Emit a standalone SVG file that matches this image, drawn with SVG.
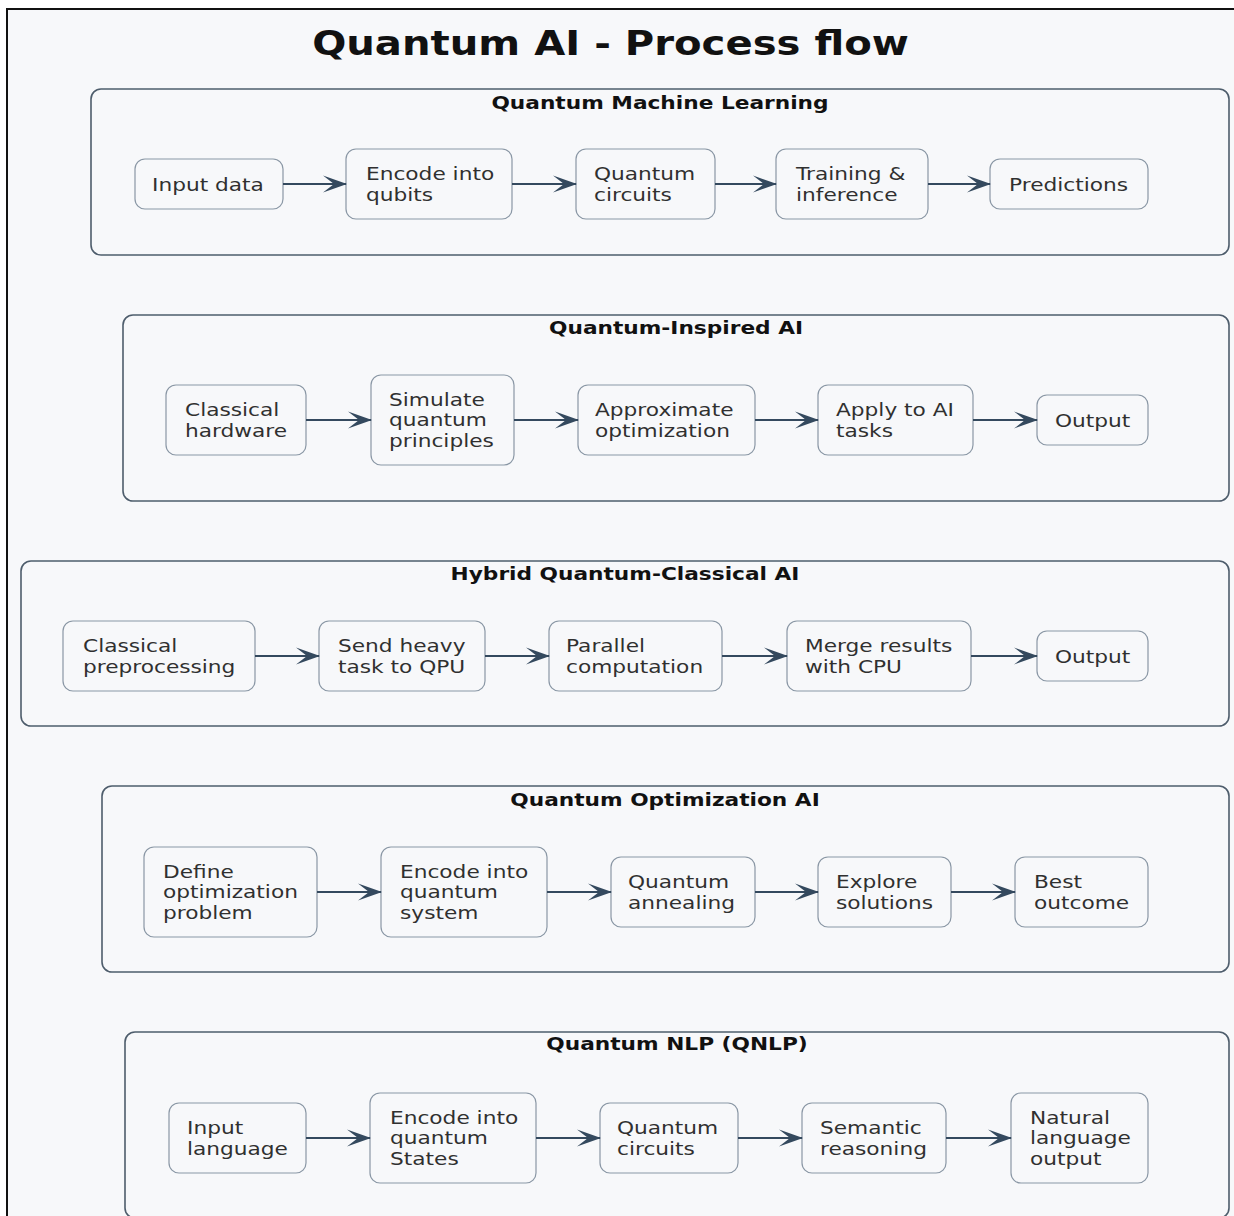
<svg xmlns="http://www.w3.org/2000/svg" width="1234" height="1216" viewBox="0 0 1234 1216">
<style>
.bg{fill:#f7f8fa;stroke:#111;stroke-width:2}
.cl{fill:#f7f8fa;stroke:#4e5d6c;stroke-width:1.6}
.nd{fill:#f7f8fa;stroke:#8a97a5;stroke-width:1.2}
.t{font-family:"DejaVu Sans",sans-serif;font-size:18px;fill:#303030}
.ct{font-family:"DejaVu Sans",sans-serif;font-size:18px;font-weight:bold;fill:#111;text-anchor:middle}
.tt{font-family:"DejaVu Sans",sans-serif;font-size:33px;font-weight:bold;fill:#111;text-anchor:middle}
.e{stroke:#34495e;stroke-width:2.2;fill:none;marker-end:url(#ah)}
</style>
<defs>
<marker id="ah" markerUnits="userSpaceOnUse" markerWidth="24" markerHeight="18" viewBox="0 0 24 18" refX="23" refY="9" orient="auto">
<path d="M0,0.5 L24,9 L0,17.5 L11,9 Z" fill="#34495e"/>
</marker>
</defs>
<rect x="0" y="0" width="1234" height="1216" fill="#ffffff"/>
<rect class="bg" x="7" y="9" width="1240" height="1220"/>
<text class="tt" transform="translate(610.5,55) scale(1.217,1)">Quantum AI - Process flow</text>

<g id="cluster-qml">
<rect class="cl" x="91" y="89" width="1138" height="166" rx="10"/>
<text class="ct" transform="translate(660,109) scale(1.205,1)">Quantum Machine Learning</text>
</g>
<g id="cluster-qia">
<rect class="cl" x="123" y="315" width="1106" height="186" rx="10"/>
<text class="ct" transform="translate(676,334) scale(1.205,1)">Quantum-Inspired AI</text>
</g>
<g id="cluster-hybrid">
<rect class="cl" x="21" y="561" width="1208" height="165" rx="10"/>
<text class="ct" transform="translate(625,580) scale(1.205,1)">Hybrid Quantum-Classical AI</text>
</g>
<g id="cluster-qopt">
<rect class="cl" x="102" y="786" width="1127" height="186" rx="10"/>
<text class="ct" transform="translate(665,806) scale(1.205,1)">Quantum Optimization AI</text>
</g>
<g id="cluster-qnlp">
<rect class="cl" x="125" y="1032" width="1104" height="186" rx="10"/>
<text class="ct" transform="translate(677,1050) scale(1.205,1)">Quantum NLP (QNLP)</text>
</g>

<!-- Row 1 -->
<g id="n1"><rect class="nd" x="135" y="159" width="148" height="50" rx="10"/><text class="t" transform="translate(152,190.5) scale(1.205,1)">Input data</text></g>
<g id="n2"><rect class="nd" x="346" y="149" width="166" height="70" rx="10"/><text class="t" transform="translate(366,180) scale(1.205,1)"><tspan x="0" y="0">Encode into</tspan><tspan x="0" y="21">qubits</tspan></text></g>
<g id="n3"><rect class="nd" x="576" y="149" width="139" height="70" rx="10"/><text class="t" transform="translate(594,180) scale(1.205,1)"><tspan x="0" y="0">Quantum</tspan><tspan x="0" y="21">circuits</tspan></text></g>
<g id="n4"><rect class="nd" x="776" y="149" width="152" height="70" rx="10"/><text class="t" transform="translate(796,180) scale(1.205,1)"><tspan x="0" y="0">Training &amp;</tspan><tspan x="0" y="21">inference</tspan></text></g>
<g id="n5"><rect class="nd" x="990" y="159" width="158" height="50" rx="10"/><text class="t" transform="translate(1009,190.5) scale(1.205,1)">Predictions</text></g>

<!-- Row 2 -->
<g id="m1"><rect class="nd" x="166" y="385" width="140" height="70" rx="10"/><text class="t" transform="translate(185,416) scale(1.205,1)"><tspan x="0" y="0">Classical</tspan><tspan x="0" y="21">hardware</tspan></text></g>
<g id="m2"><rect class="nd" x="371" y="375" width="143" height="90" rx="10"/><text class="t" transform="translate(389,405.5) scale(1.205,1)"><tspan x="0" y="0">Simulate</tspan><tspan x="0" y="21">quantum</tspan><tspan x="0" y="42">principles</tspan></text></g>
<g id="m3"><rect class="nd" x="578" y="385" width="177" height="70" rx="10"/><text class="t" transform="translate(595,416) scale(1.205,1)"><tspan x="0" y="0">Approximate</tspan><tspan x="0" y="21">optimization</tspan></text></g>
<g id="m4"><rect class="nd" x="818" y="385" width="155" height="70" rx="10"/><text class="t" transform="translate(836,416) scale(1.205,1)"><tspan x="0" y="0">Apply to AI</tspan><tspan x="0" y="21">tasks</tspan></text></g>
<g id="m5"><rect class="nd" x="1037" y="395" width="111" height="50" rx="10"/><text class="t" transform="translate(1055,426.5) scale(1.205,1)">Output</text></g>

<!-- Row 3 -->
<g id="h1"><rect class="nd" x="63" y="621" width="192" height="70" rx="10"/><text class="t" transform="translate(83,652) scale(1.205,1)"><tspan x="0" y="0">Classical</tspan><tspan x="0" y="21">preprocessing</tspan></text></g>
<g id="h2"><rect class="nd" x="319" y="621" width="166" height="70" rx="10"/><text class="t" transform="translate(338,652) scale(1.205,1)"><tspan x="0" y="0">Send heavy</tspan><tspan x="0" y="21">task to QPU</tspan></text></g>
<g id="h3"><rect class="nd" x="549" y="621" width="173" height="70" rx="10"/><text class="t" transform="translate(566,652) scale(1.205,1)"><tspan x="0" y="0">Parallel</tspan><tspan x="0" y="21">computation</tspan></text></g>
<g id="h4"><rect class="nd" x="787" y="621" width="184" height="70" rx="10"/><text class="t" transform="translate(805,652) scale(1.205,1)"><tspan x="0" y="0">Merge results</tspan><tspan x="0" y="21">with CPU</tspan></text></g>
<g id="h5"><rect class="nd" x="1037" y="631" width="111" height="50" rx="10"/><text class="t" transform="translate(1055,662.5) scale(1.205,1)">Output</text></g>

<!-- Row 4 -->
<g id="o1"><rect class="nd" x="144" y="847" width="173" height="90" rx="10"/><text class="t" transform="translate(163,877.5) scale(1.205,1)"><tspan x="0" y="0">Define</tspan><tspan x="0" y="21">optimization</tspan><tspan x="0" y="42">problem</tspan></text></g>
<g id="o2"><rect class="nd" x="381" y="847" width="166" height="90" rx="10"/><text class="t" transform="translate(400,877.5) scale(1.205,1)"><tspan x="0" y="0">Encode into</tspan><tspan x="0" y="21">quantum</tspan><tspan x="0" y="42">system</tspan></text></g>
<g id="o3"><rect class="nd" x="611" y="857" width="144" height="70" rx="10"/><text class="t" transform="translate(628,888) scale(1.205,1)"><tspan x="0" y="0">Quantum</tspan><tspan x="0" y="21">annealing</tspan></text></g>
<g id="o4"><rect class="nd" x="818" y="857" width="133" height="70" rx="10"/><text class="t" transform="translate(836,888) scale(1.205,1)"><tspan x="0" y="0">Explore</tspan><tspan x="0" y="21">solutions</tspan></text></g>
<g id="o5"><rect class="nd" x="1015" y="857" width="133" height="70" rx="10"/><text class="t" transform="translate(1034,888) scale(1.205,1)"><tspan x="0" y="0">Best</tspan><tspan x="0" y="21">outcome</tspan></text></g>

<!-- Row 5 -->
<g id="q1"><rect class="nd" x="169" y="1103" width="137" height="70" rx="10"/><text class="t" transform="translate(187,1134) scale(1.205,1)"><tspan x="0" y="0">Input</tspan><tspan x="0" y="21">language</tspan></text></g>
<g id="q2"><rect class="nd" x="370" y="1093" width="166" height="90" rx="10"/><text class="t" transform="translate(390,1123.5) scale(1.205,1)"><tspan x="0" y="0">Encode into</tspan><tspan x="0" y="21">quantum</tspan><tspan x="0" y="42">States</tspan></text></g>
<g id="q3"><rect class="nd" x="600" y="1103" width="138" height="70" rx="10"/><text class="t" transform="translate(617,1134) scale(1.205,1)"><tspan x="0" y="0">Quantum</tspan><tspan x="0" y="21">circuits</tspan></text></g>
<g id="q4"><rect class="nd" x="802" y="1103" width="144" height="70" rx="10"/><text class="t" transform="translate(820,1134) scale(1.205,1)"><tspan x="0" y="0">Semantic</tspan><tspan x="0" y="21">reasoning</tspan></text></g>
<g id="q5"><rect class="nd" x="1011" y="1093" width="137" height="90" rx="10"/><text class="t" transform="translate(1030,1123.5) scale(1.205,1)"><tspan x="0" y="0">Natural</tspan><tspan x="0" y="21">language</tspan><tspan x="0" y="42">output</tspan></text></g>

<g id="connectors">
<line class="e" x1="283" y1="184" x2="346" y2="184"/>
<line class="e" x1="512" y1="184" x2="576" y2="184"/>
<line class="e" x1="715" y1="184" x2="776" y2="184"/>
<line class="e" x1="928" y1="184" x2="990" y2="184"/>

<line class="e" x1="306" y1="420" x2="371" y2="420"/>
<line class="e" x1="514" y1="420" x2="578" y2="420"/>
<line class="e" x1="755" y1="420" x2="818" y2="420"/>
<line class="e" x1="973" y1="420" x2="1037" y2="420"/>

<line class="e" x1="255" y1="656" x2="319" y2="656"/>
<line class="e" x1="485" y1="656" x2="549" y2="656"/>
<line class="e" x1="722" y1="656" x2="787" y2="656"/>
<line class="e" x1="971" y1="656" x2="1037" y2="656"/>

<line class="e" x1="317" y1="892" x2="381" y2="892"/>
<line class="e" x1="547" y1="892" x2="611" y2="892"/>
<line class="e" x1="755" y1="892" x2="818" y2="892"/>
<line class="e" x1="951" y1="892" x2="1015" y2="892"/>

<line class="e" x1="306" y1="1138" x2="370" y2="1138"/>
<line class="e" x1="536" y1="1138" x2="600" y2="1138"/>
<line class="e" x1="738" y1="1138" x2="802" y2="1138"/>
<line class="e" x1="946" y1="1138" x2="1011" y2="1138"/>
</g>
</svg>
